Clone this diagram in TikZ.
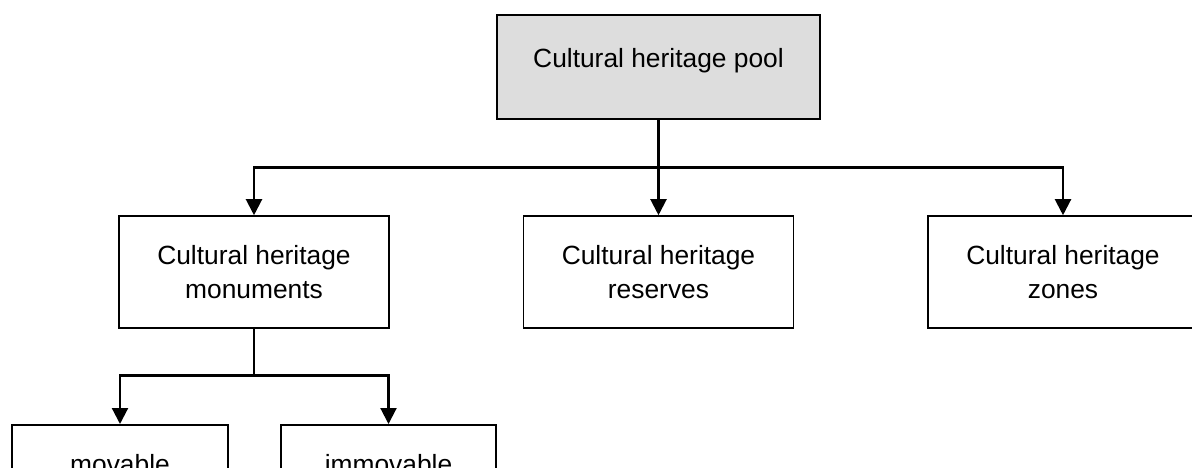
\documentclass[tikz,border=0pt]{standalone}
\usepackage{xcolor}
\usepackage{fontspec}
\setmainfont{Liberation Sans}
\usepackage{tikz}
\usetikzlibrary{arrows.meta}

\definecolor{poolgray}{RGB}{221,221,221}
\tikzset{
  caja/.style={draw, line width=0.9pt, align=center, font=\fontsize{15}{19.3}\selectfont},
  enlace/.style={line width=1.2pt, -{Triangle[length=0.32cm,width=0.32cm]}}
}

\begin{document}
\begin{tikzpicture}
        % Fija el marco
        \useasboundingbox (0,0) rectangle (23.84,-9.34);
        \clip (0,0) rectangle (23.84,-9.34);

        % Coloca la caja principal
        \node (pool) at (13.17,-1.34) [caja, fill=poolgray, minimum width=6.46cm, minimum height=2.08cm, text height=11pt, text depth=11pt] {Cultural heritage pool};

        % Coloca las tres cajas del segundo nivel
        \node (monuments) at (5.08,-5.44) [caja, minimum width=5.40cm, minimum height=2.24cm] {Cultural heritage\\monuments};
        \node (reserves) at (13.17,-5.44) [caja, minimum width=5.40cm, minimum height=2.24cm] {Cultural heritage\\reserves};
        \node (zones) at (21.26,-5.44) [caja, minimum width=5.40cm, minimum height=2.24cm] {Cultural heritage\\zones};

        % Coloca las cajas de abajo
        \node (movable) at (2.40,-8.48) [caja, anchor=north, minimum width=4.32cm, minimum height=1.58cm] {movable};
        \node (immovable) at (7.77,-8.48) [caja, anchor=north, minimum width=4.30cm, minimum height=1.58cm] {immovable};

        % Dibuja las flechas del primer nivel
        \coordinate (bus) at (13.17,-3.35);
        \draw[enlace] (pool.south) -- (reserves.north);
        \draw[enlace] (bus) -| (monuments.north);
        \draw[enlace] (bus) -| (zones.north);

        % Dibuja las flechas del segundo nivel
        \coordinate (subbus) at (5.08,-7.51);
        \draw[line width=1.2pt] (monuments.south) -- (subbus);
        \draw[enlace] (subbus) -| (movable.north);
        \draw[enlace] (subbus) -| (immovable.north);
    \end{tikzpicture}
\end{document}
